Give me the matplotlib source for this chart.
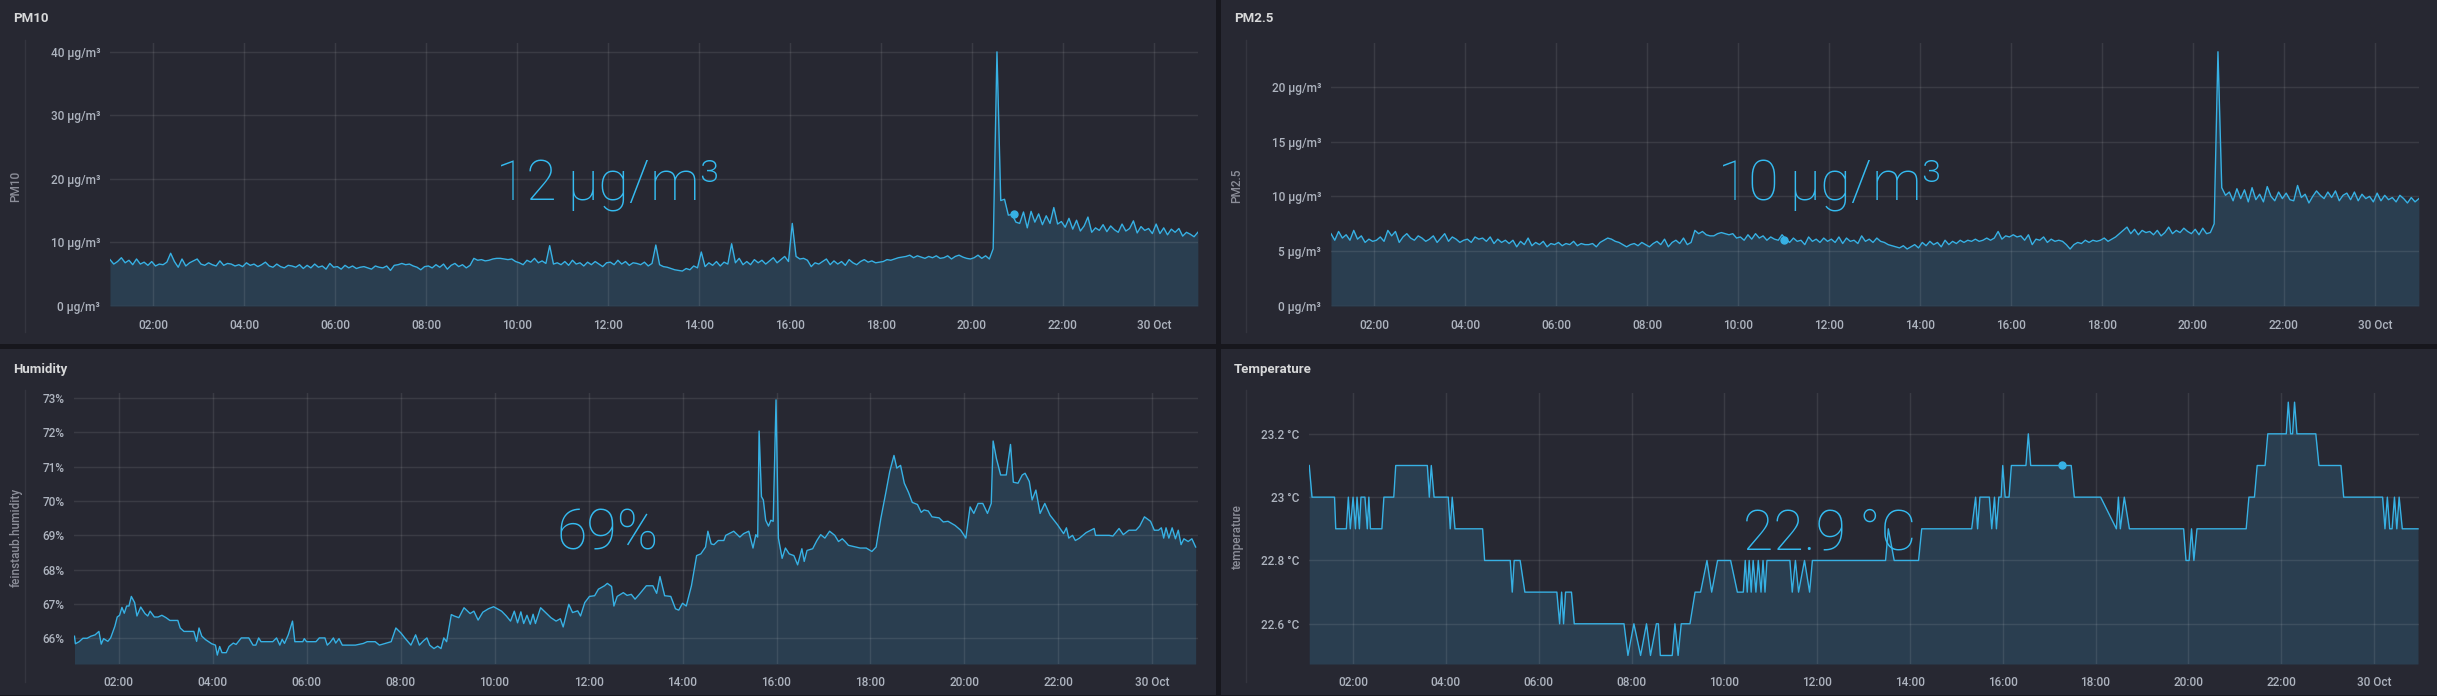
import numpy as np
import matplotlib
matplotlib.use("Agg")
import matplotlib.pyplot as plt
from matplotlib.patches import Rectangle
from matplotlib.lines import Line2D

W, H = 2437, 696
PAGE_BG = "#17171d"
PANEL_BG = "#272832"
GRID = "white"
GRID_ALPHA = 0.09
LINE = "#37b1e4"
FILL = "#2a3e50"
TICK_COLOR = "#aeb4bf"
TITLE_COLOR = "#d8d9da"
FONT = ["Roboto", "DejaVu Sans"]

# 5-minute samples, first one at 01:03 (hours since midnight 29 Oct)
pm_start = 1.05
pm_step = 5 / 60

pm10 = [
    7.3, 6.6, 7.0, 7.6, 6.8, 7.2, 6.5, 7.4, 6.6, 6.9, 6.4, 7.0,
    6.3, 6.6, 6.5, 6.9, 8.3, 7.0, 6.1, 7.4, 6.3, 6.8, 7.1, 7.4,
    6.6, 6.4, 6.8, 6.5, 6.3, 7.1, 6.4, 6.7, 6.6, 6.3, 6.5, 6.2,
    6.8, 6.4, 6.6, 6.2, 6.5, 6.9, 6.3, 6.1, 6.6, 6.2, 6.0, 6.4,
    6.3, 6.1, 6.5, 5.9, 6.4, 6.0, 6.6, 6.1, 6.3, 5.8, 6.7, 6.1,
    6.2, 5.8, 6.4, 6.0, 6.3, 5.9, 6.1, 6.2, 6.0, 5.8, 6.3, 6.1,
    6.0, 6.3, 5.6, 6.4, 6.5, 6.7, 6.5, 6.6, 6.3, 6.1, 5.7, 6.2,
    6.3, 6.0, 6.5, 6.1, 6.6, 5.8, 6.4, 6.7, 6.2, 6.5, 6.0, 6.4,
    7.5, 7.2, 7.3, 7.1, 7.2, 7.4, 7.5, 7.5, 7.4, 7.3, 7.4, 7.0,
    6.8, 6.5, 7.2, 6.9, 7.5, 6.8, 7.1, 6.7, 9.5, 6.6, 6.8, 6.5,
    7.0, 6.4, 7.2, 6.6, 6.8, 6.3, 6.9, 6.5, 7.0, 6.6, 6.2, 6.8,
    6.9, 6.5, 7.2, 6.6, 7.0, 6.4, 6.8, 6.7, 6.5, 6.9, 6.3, 6.7,
    9.6, 6.5, 6.2, 6.1, 5.9, 5.7, 5.6, 5.5, 5.9, 5.7, 6.3, 6.0,
    8.5, 6.2, 6.8, 6.4, 7.0, 6.3, 6.9, 6.6, 9.8, 6.8, 7.5, 6.5,
    7.0, 6.5, 7.3, 6.8, 7.2, 6.6, 7.1, 7.6, 6.8, 7.3, 7.8, 7.0,
    13.0, 7.8, 7.4, 7.5, 7.2, 6.2, 6.8, 6.6, 7.0, 7.4, 6.5, 7.1,
    6.6, 7.0, 6.4, 7.3, 6.8, 6.5, 7.0, 7.3, 6.9, 7.1, 6.8, 6.9,
    7.0, 7.3, 7.2, 7.4, 7.6, 7.7, 7.8, 8.0, 7.6, 7.9, 7.7, 7.5,
    7.8, 7.6, 7.9, 7.5, 7.6, 7.9, 7.4, 7.8, 8.0, 7.7, 7.5, 7.4,
    7.6, 8.0, 7.5, 7.9, 7.4, 9.0, 40.0, 16.6, 16.8, 14.3, 14.4, 13.2,
    13.0, 14.8, 12.3, 14.9, 13.2, 14.5, 12.8, 14.2, 13.0, 15.5, 12.9, 13.3,
    12.4, 13.8, 12.1, 13.5, 11.8, 12.6, 14.0, 11.6, 12.3, 11.9, 12.8, 11.7,
    12.6, 12.0, 11.6, 12.9, 11.8, 12.2, 13.4, 11.5, 12.5, 11.9, 12.2, 11.4,
    12.9, 11.4, 12.3, 11.2, 12.1, 11.6, 12.2, 11.0, 11.6, 11.3, 10.9, 11.6,
]

pm25 = [
    6.6, 6.0, 6.8, 6.2, 6.5, 6.0, 6.9, 6.1, 6.4, 5.8, 6.1, 5.9,
    6.0, 6.3, 5.9, 6.9, 6.4, 6.8, 5.8, 6.3, 6.6, 6.2, 6.0, 6.4,
    6.2, 5.9, 6.1, 6.4, 5.8, 6.2, 6.6, 5.9, 6.3, 6.1, 5.8, 6.0,
    6.1, 5.8, 6.3, 6.1, 6.2, 5.9, 6.3, 5.7, 6.1, 5.8, 6.0, 5.7,
    6.0, 5.4, 5.9, 5.6, 6.2, 5.5, 5.8, 5.6, 5.9, 5.4, 5.7, 5.6,
    5.8, 5.5, 5.7, 5.6, 5.9, 5.5, 5.7, 5.6, 5.6, 5.7, 5.4, 5.8,
    6.0, 6.2, 6.1, 5.9, 5.8, 5.6, 5.4, 5.6, 5.7, 5.5, 5.8, 5.6,
    5.4, 5.7, 5.9, 5.6, 6.1, 5.4, 5.8, 6.0, 5.7, 6.2, 5.6, 5.8,
    6.9, 6.6, 6.8, 6.5, 6.4, 6.4, 6.6, 6.7, 6.6, 6.5, 6.6, 6.2,
    6.3, 6.0, 6.5, 6.1, 6.6, 6.2, 6.4, 6.0, 6.3, 6.1, 6.0, 6.5,
    6.1, 5.8, 6.2, 5.9, 6.0, 5.6, 6.3, 5.9, 6.1, 5.8, 6.2, 5.9,
    6.1, 5.8, 6.3, 5.7, 6.2, 5.9, 6.0, 5.7, 6.4, 5.9, 6.1, 5.8,
    6.2, 5.9, 5.8, 5.6, 5.5, 5.4, 5.3, 5.5, 5.2, 5.4, 5.6, 5.3,
    5.8, 5.5, 5.9, 5.6, 5.8, 5.4, 6.0, 5.6, 5.9, 5.7, 6.0, 5.8,
    6.0, 5.9, 6.1, 5.9, 6.0, 6.2, 6.0, 6.2, 6.8, 6.1, 6.4, 6.3,
    6.5, 6.3, 6.4, 6.0, 6.5, 5.6, 6.1, 6.0, 6.3, 5.8, 6.1, 5.9,
    6.0, 5.9, 5.6, 5.2, 5.6, 5.8, 5.7, 6.0, 5.8, 6.0, 5.9, 6.0,
    6.2, 5.9, 6.1, 6.3, 6.6, 6.9, 7.2, 6.6, 7.0, 6.5, 6.9, 6.7,
    6.8, 6.5, 6.9, 6.4, 6.7, 7.2, 6.6, 6.9, 6.7, 7.1, 6.8, 6.6,
    7.0, 6.5, 7.1, 6.6, 6.7, 7.5, 23.2, 10.8, 10.1, 10.4, 9.6, 10.7,
    9.8, 10.6, 9.5, 10.8, 9.7, 10.2, 9.5, 10.9, 10.0, 9.6, 10.4, 9.8,
    10.3, 9.7, 9.6, 11.0, 9.9, 10.2, 9.4, 10.0, 10.5, 10.1, 9.8, 10.4,
    9.9, 10.5, 9.6, 10.1, 10.3, 9.7, 10.4, 9.6, 10.2, 9.8, 10.0, 9.5,
    10.3, 9.6, 10.1, 9.7, 9.9, 9.5, 10.1, 9.8, 9.4, 9.9, 9.5, 9.8,
]

humidity_t = [
    1.06, 1.08, 1.16, 1.24, 1.33, 1.41, 1.50, 1.58, 1.63, 1.68, 1.77, 1.83,
    1.92, 1.97, 2.02, 2.07, 2.12, 2.17, 2.22, 2.27, 2.34, 2.39, 2.47, 2.56,
    2.62, 2.67, 2.76, 2.84, 2.92, 3.01, 3.09, 3.26, 3.31, 3.39, 3.60, 3.66,
    3.71, 3.77, 3.85, 3.98, 4.06, 4.10, 4.15, 4.20, 4.29, 4.35, 4.44, 4.50,
    4.61, 4.77, 4.86, 4.92, 4.98, 5.03, 5.28, 5.36, 5.43, 5.48, 5.53, 5.61,
    5.70, 5.75, 5.92, 5.95, 6.00, 6.20, 6.27, 6.39, 6.44, 6.50, 6.57, 6.62,
    6.69, 6.76, 7.04, 7.21, 7.29, 7.46, 7.55, 7.80, 7.90, 8.01, 8.09, 8.22,
    8.32, 8.40, 8.49, 8.56, 8.62, 8.71, 8.79, 8.86, 8.92, 8.98, 9.08, 9.14,
    9.24, 9.35, 9.48, 9.56, 9.65, 9.75, 9.87, 9.98, 10.15, 10.25, 10.34, 10.42,
    10.49, 10.56, 10.62, 10.69, 10.76, 10.82, 10.87, 10.98, 11.08, 11.20, 11.31, 11.40,
    11.46, 11.58, 11.66, 11.77, 11.83, 11.92, 12.02, 12.13, 12.21, 12.34, 12.40, 12.49,
    12.54, 12.61, 12.74, 12.82, 12.91, 12.99, 13.08, 13.23, 13.37, 13.45, 13.52, 13.62,
    13.75, 13.85, 13.92, 14.00, 14.08, 14.19, 14.30, 14.39, 14.49, 14.54, 14.61, 14.67,
    14.76, 14.88, 14.92, 15.09, 15.22, 15.30, 15.41, 15.50, 15.56, 15.60, 15.63, 15.68,
    15.72, 15.77, 15.83, 15.88, 15.93, 15.99, 16.04, 16.12, 16.19, 16.27, 16.37, 16.45,
    16.54, 16.59, 16.65, 16.77, 16.86, 16.94, 17.03, 17.13, 17.24, 17.32, 17.40, 17.46,
    17.53, 17.78, 17.91, 18.03, 18.12, 18.22, 18.33, 18.41, 18.50, 18.56, 18.64, 18.72,
    18.81, 18.89, 19.00, 19.08, 19.14, 19.23, 19.31, 19.46, 19.55, 19.65, 19.80, 19.92,
    20.03, 20.12, 20.20, 20.29, 20.39, 20.49, 20.57, 20.61, 20.68, 20.77, 20.89, 20.98,
    21.04, 21.14, 21.23, 21.29, 21.38, 21.44, 21.52, 21.61, 21.71, 21.82, 21.98, 22.11,
    22.17, 22.22, 22.30, 22.36, 22.45, 22.59, 22.76, 22.79, 23.08, 23.16, 23.29, 23.38,
    23.50, 23.65, 23.73, 23.83, 23.96, 24.04, 24.13, 24.19, 24.24, 24.29, 24.35, 24.42,
    24.49, 24.55, 24.61, 24.67, 24.76, 24.84, 24.92,
]
humidity_v = [
    66.06, 65.84, 65.90, 66.00, 66.00, 66.06, 66.10, 66.20, 65.83, 65.99, 65.91, 66.01,
    66.35, 66.62, 66.67, 66.90, 66.73, 66.94, 66.94, 67.22, 67.04, 66.65, 66.91, 66.72,
    66.65, 66.79, 66.62, 66.62, 66.67, 66.60, 66.52, 66.52, 66.30, 66.20, 66.20, 65.91,
    66.30, 66.06, 65.96, 65.84, 65.80, 65.51, 65.76, 65.58, 65.58, 65.76, 65.86, 65.82,
    66.01, 66.01, 65.80, 65.80, 66.01, 65.90, 65.90, 66.01, 65.80, 65.97, 65.85, 66.10,
    66.50, 65.90, 65.90, 65.99, 65.90, 65.90, 66.01, 66.01, 65.80, 65.88, 66.01, 65.86,
    65.99, 65.80, 65.80, 65.85, 65.90, 65.90, 65.80, 65.90, 66.30, 66.15, 66.01, 65.80,
    66.10, 65.80, 65.93, 66.01, 65.80, 65.70, 65.77, 65.70, 66.01, 65.90, 66.69, 66.65,
    66.60, 66.89, 66.72, 66.79, 66.53, 66.76, 66.86, 66.92, 66.79, 66.65, 66.50, 66.79,
    66.45, 66.77, 66.43, 66.67, 66.41, 66.70, 66.43, 66.89, 66.76, 66.60, 66.50, 66.57,
    66.33, 66.99, 66.75, 66.80, 66.65, 67.04, 67.22, 67.24, 67.43, 67.53, 67.60, 67.51,
    66.94, 67.22, 67.33, 67.25, 67.28, 67.14, 67.28, 67.53, 67.53, 67.31, 67.80, 67.24,
    67.22, 66.86, 66.82, 67.02, 66.94, 67.53, 68.41, 68.46, 68.66, 69.12, 68.75, 68.73,
    68.85, 68.85, 69.00, 69.12, 68.95, 69.05, 69.12, 68.63, 69.02, 68.95, 72.04, 70.13,
    70.03, 69.44, 69.27, 69.44, 69.41, 72.95, 68.92, 68.33, 68.63, 68.46, 68.41, 68.14,
    68.61, 68.24, 68.56, 68.61, 68.85, 69.02, 68.92, 69.12, 69.00, 68.82, 68.90, 68.82,
    68.71, 68.63, 68.63, 68.53, 68.66, 69.49, 70.27, 70.86, 71.33, 70.96, 71.04, 70.52,
    70.25, 69.96, 69.90, 69.67, 69.74, 69.71, 69.54, 69.51, 69.39, 69.41, 69.29, 69.15,
    68.92, 69.83, 69.64, 69.93, 69.93, 69.64, 69.93, 71.75, 71.24, 70.76, 70.76, 71.65,
    70.55, 70.52, 70.76, 70.81, 70.57, 70.03, 70.32, 69.64, 69.93, 69.59, 69.31, 69.05,
    69.22, 68.92, 69.00, 68.85, 68.92, 69.08, 69.20, 69.00, 69.00, 68.98, 69.20, 69.02,
    69.15, 69.15, 69.27, 69.54, 69.41, 69.15, 69.15, 69.22, 68.92, 69.22, 68.92, 69.22,
    68.90, 69.15, 68.73, 68.90, 68.82, 68.90, 68.66,
]

temp_t = [
    1.055, 1.115, 1.600, 1.626, 1.855, 1.898, 1.940, 2.000, 2.051, 2.085, 2.136, 2.170,
    2.255, 2.306, 2.340, 2.374, 2.621, 2.664, 2.877, 2.919, 3.600, 3.643, 3.685, 3.745,
    4.051, 4.094, 4.136, 4.196, 4.791, 4.834, 5.387, 5.430, 5.472, 5.600, 5.702, 6.391,
    6.451, 6.494, 6.536, 6.579, 6.706, 6.766, 7.838, 7.923, 8.051, 8.196, 8.323, 8.409,
    8.536, 8.579, 8.621, 8.877, 8.936, 9.004, 9.072, 9.260, 9.370, 9.489, 9.626, 9.728,
    9.855, 10.136, 10.281, 10.409, 10.451, 10.494, 10.536, 10.579, 10.621, 10.681, 10.732, 10.791,
    10.834, 10.877, 10.919, 11.413, 11.464, 11.532, 11.600, 11.728, 11.838, 11.898, 13.475, 13.534,
    13.661, 14.186, 14.254, 15.331, 15.415, 15.458, 15.508, 15.712, 15.763, 15.822, 15.864, 15.915,
    15.966, 16.000, 16.051, 16.136, 16.186, 16.500, 16.551, 16.602, 17.475, 17.542, 18.110, 18.449,
    18.492, 18.534, 18.619, 18.729, 19.898, 19.949, 20.017, 20.068, 20.119, 20.186, 21.246, 21.305,
    21.424, 21.483, 21.653, 21.712, 22.110, 22.153, 22.203, 22.246, 22.288, 22.339, 22.746, 22.814,
    23.288, 23.347, 24.186, 24.237, 24.288, 24.339, 24.390, 24.441, 24.492, 24.542, 24.610, 24.949,
]
temp_v = [
    23.1, 23.0, 23.0, 22.9, 22.9, 23.0, 22.9, 23.0, 22.9, 23.0, 22.9, 23.0,
    23.0, 22.9, 23.0, 22.9, 22.9, 23.0, 23.0, 23.1, 23.1, 23.0, 23.1, 23.0,
    23.0, 22.9, 23.0, 22.9, 22.9, 22.8, 22.8, 22.7, 22.8, 22.8, 22.7, 22.7,
    22.6, 22.7, 22.6, 22.7, 22.7, 22.6, 22.6, 22.5, 22.6, 22.5, 22.6, 22.5,
    22.6, 22.6, 22.5, 22.5, 22.6, 22.5, 22.6, 22.6, 22.7, 22.7, 22.8, 22.7,
    22.8, 22.8, 22.7, 22.7, 22.8, 22.7, 22.8, 22.7, 22.8, 22.7, 22.8, 22.7,
    22.8, 22.7, 22.8, 22.8, 22.7, 22.8, 22.7, 22.8, 22.7, 22.8, 22.8, 22.9,
    22.8, 22.8, 22.9, 22.9, 23.0, 22.9, 23.0, 23.0, 22.9, 23.0, 22.9, 23.0,
    23.0, 23.1, 23.0, 23.0, 23.1, 23.1, 23.2, 23.1, 23.1, 23.0, 23.0, 22.9,
    23.0, 22.9, 23.0, 22.9, 22.9, 22.8, 22.8, 22.9, 22.8, 22.9, 22.9, 23.0,
    23.0, 23.1, 23.1, 23.2, 23.2, 23.3, 23.2, 23.2, 23.3, 23.2, 23.2, 23.1,
    23.1, 23.0, 23.0, 22.9, 23.0, 22.9, 22.9, 23.0, 22.9, 23.0, 22.9, 22.9,
]

hour_ticks = [2, 4, 6, 8, 10, 12, 14, 16, 18, 20, 22, 24]
hour_labels = ["02:00", "04:00", "06:00", "08:00", "10:00", "12:00",
               "14:00", "16:00", "18:00", "20:00", "22:00", "30 Oct"]
x_range = (1.05, 24.97)

pm10_ticks = [0, 10, 20, 30, 40]
pm25_ticks = [0, 5, 10, 15, 20]
hum_ticks = [66, 67, 68, 69, 70, 71, 72, 73]
temp_ticks = [22.6, 22.8, 23.0, 23.2]
temp_labels = ["22.6 °C", "22.8 °C", "23 °C", "23.2 °C"]

pm10_dot = (20.92, 14.5)
pm25_dot = (11.0, 6.0)
temp_dot = (17.27, 23.1)

plt.rcParams["font.family"] = FONT

fig = plt.figure(figsize=(W / 100, H / 100), dpi=100, facecolor=PAGE_BG)


def fx(px):
    return px / W


def fy(py):
    return 1 - py / H


def add_panel(x0, y0, x1, y1):
    fig.patches.append(Rectangle((fx(x0), fy(y1)), fx(x1 - x0), (y1 - y0) / H,
                                 transform=fig.transFigure, facecolor=PANEL_BG,
                                 edgecolor="none", zorder=-5))


def make_axes(box, ylim, yticks, ylabels, title, title_xy, ylabel, ylabel_xy,
              sep_x, sep_y):
    left, top, right, bottom = box
    ax = fig.add_axes([fx(left), fy(bottom), fx(right - left), (bottom - top) / H])
    ax.set_facecolor("none")
    ax.set_xlim(*x_range)
    ax.set_ylim(*ylim)
    ax.set_xticks(hour_ticks)
    ax.set_xticklabels(hour_labels)
    ax.set_yticks(yticks)
    ax.set_yticklabels(ylabels)
    ax.tick_params(length=0, labelsize=8.5, labelcolor=TICK_COLOR, pad=7)
    ax.tick_params(axis="x", pad=9)
    for lab in ax.get_xticklabels() + ax.get_yticklabels():
        lab.set_fontweight("medium")
    ax.set_axisbelow(False)
    ax.grid(True, color=GRID, alpha=GRID_ALPHA, linewidth=1.0)
    for s in ax.spines.values():
        s.set_visible(False)
    fig.text(fx(title_xy[0]), fy(title_xy[1]), title, fontsize=9.5, fontweight="bold",
             color=TITLE_COLOR, ha="left", va="center")
    fig.text(fx(ylabel_xy[0]), fy(ylabel_xy[1]), ylabel, fontsize=8.5, rotation=90,
             color="#8d8f9a", fontweight="medium", ha="center", va="center")
    fig.lines.append(Line2D([fx(sep_x), fx(sep_x)], [fy(sep_y[0]), fy(sep_y[1])],
                            transform=fig.transFigure, color="#34353f", linewidth=1.0))
    return ax


def draw_series(ax, t, v, ylim):
    ax.fill_between(t, v, ylim[0], color=FILL, linewidth=0, zorder=1)
    ax.plot(t, v, color=LINE, linewidth=1.0, zorder=3)


def big_value(x, y, text):
    fig.text(fx(x), fy(y), text, fontsize=40, fontweight="light", color="#35bbf0",
             ha="center", va="baseline", zorder=5)


add_panel(0, 0, 1216, 344)
add_panel(1221, 0, 2437, 344)
add_panel(0, 349, 1216, 695)
add_panel(1221, 349, 2437, 695)

pm_t = pm_start + pm_step * np.arange(len(pm10))

# PM10
ylim = (0, 41.4)
ax = make_axes((110, 43, 1198, 306), ylim, pm10_ticks,
               [f"{v} µg/m³" for v in pm10_ticks], "PM10", (13, 18),
               "PM10", (16, 186), 25, (40, 332))
draw_series(ax, pm_t, pm10, ylim)
ax.plot(*pm10_dot, "o", color=LINE, markersize=5, zorder=4)
big_value(608, 200, "12\u2009µg/m³")

# PM2.5
ylim = (0, 24.0)
ax = make_axes((1331, 43, 2419, 306), ylim, pm25_ticks,
               [f"{v} µg/m³" for v in pm25_ticks], "PM2.5", (1234, 18),
               "PM2.5", (1237, 186), 1246, (40, 332))
draw_series(ax, pm_t, pm25, ylim)
ax.plot(*pm25_dot, "o", color=LINE, markersize=5, zorder=4)
big_value(1830, 200, "10\u2009µg/m³")

# Humidity
ylim = (65.25, 73.15)
ax = make_axes((74, 393, 1198, 664), ylim, hum_ticks,
               [f"{v}%" for v in hum_ticks], "Humidity", (13, 369),
               "feinstaub.humidity", (16, 537), 25, (390, 682))
draw_series(ax, humidity_t, humidity_v, ylim)
big_value(608, 550, "69%")

# Temperature
ylim = (22.473, 23.329)
ax = make_axes((1309, 393, 2419, 664), ylim, temp_ticks, temp_labels,
               "Temperature", (1234, 369), "temperature", (1237, 537),
               1246, (390, 682))
draw_series(ax, temp_t, temp_v, ylim)
ax.plot(*temp_dot, "o", color=LINE, markersize=5, zorder=4)
big_value(1830, 550, "22.9 °C")

fig.savefig("out.png", dpi=100, facecolor=PAGE_BG)
